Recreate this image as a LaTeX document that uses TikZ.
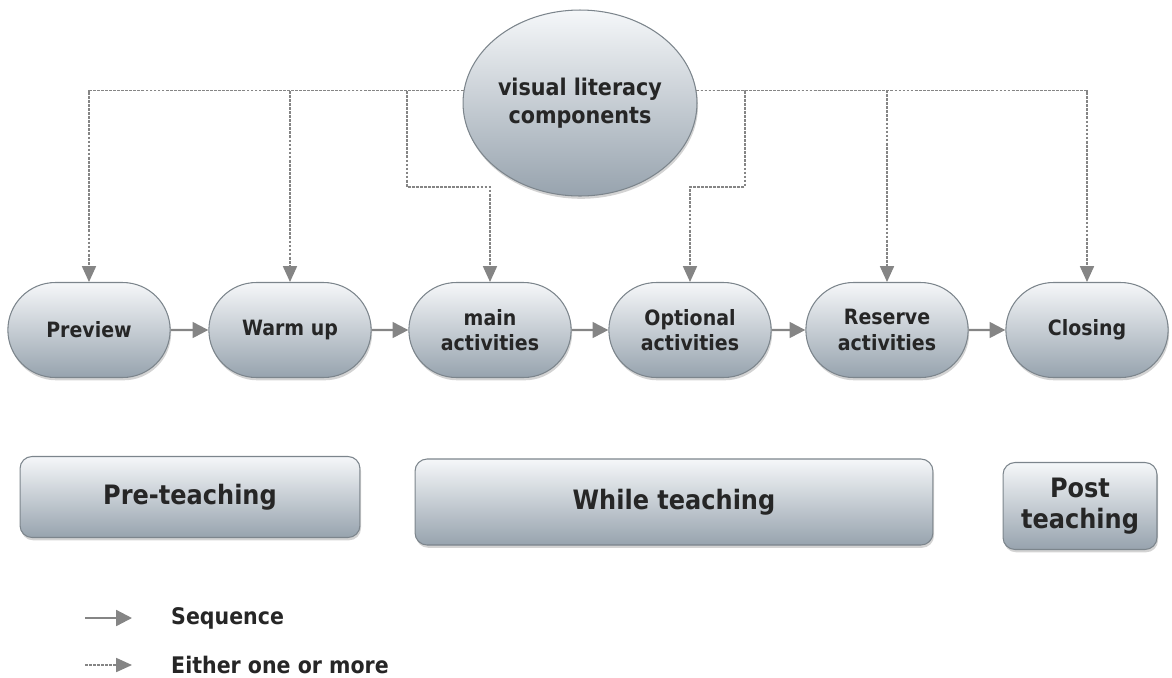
\documentclass[tikz,border=0pt]{standalone}
\usepackage{fontspec}
\setmainfont{DejaVu Sans Condensed}[BoldFont={DejaVu Sans Condensed Bold}]
\usepackage{tikz}
\usetikzlibrary{arrows.meta,shapes.misc,shapes.geometric,shadows}
\definecolor{boxtop}{HTML}{F5F7F9}
\definecolor{boxbot}{HTML}{97A3AE}
\definecolor{boxline}{HTML}{7C858C}
\definecolor{arrowgray}{HTML}{858585}
\tikzset{
  gloss/.style={draw=boxline, line width=0.6pt, top color=boxtop, bottom color=boxbot,
    text=black!85, font=\bfseries, align=center,
    drop shadow={opacity=0.35, shadow xshift=0.6pt, shadow yshift=-1.6pt}},
  stage/.style={gloss, rounded rectangle, minimum width=3.48cm, minimum height=1.9cm,
    font=\fontsize{12}{14.5}\selectfont\bfseries},
  phase/.style={gloss, rectangle, rounded corners=0.24cm,
    font=\fontsize{15.2}{18}\selectfont\bfseries},
  seq/.style={arrowgray, line width=1.3pt, -{Triangle[width=9pt,length=9pt]}},
  either/.style={arrowgray, line width=0.75pt, dash pattern=on 1.6pt off 0.7pt,
    -{Triangle[width=8pt,length=9pt]}}
}
\begin{document}
\begin{tikzpicture}[x=0.02cm,y=-0.02cm]
\useasboundingbox (0,0) rectangle (1172,677);

%components
\node[gloss,ellipse,inner sep=0pt,minimum width=4.68cm,minimum height=3.72cm,
  font=\fontsize{13.1}{16}\selectfont\bfseries](vlc)at(580,103){visual literacy\\components};
%lesson stages
\node[stage](prev)at(89,330){Preview};
\node[stage](warm)at(290,330){Warm up};
\node[stage](main)at(490,330){main\\activities};
\node[stage](opt)at(690,330){Optional\\activities};
\node[stage](res)at(887,330){Reserve\\activities};
\node[stage](clo)at(1087,330){Closing};
%sequence
\draw[seq](prev)--(warm);
\draw[seq](warm)--(main);
\draw[seq](main)--(opt);
\draw[seq](opt)--(res);
\draw[seq](res)--(clo);
%either one or more
\draw[either](vlc.174)-|(prev.north);
\draw[either](vlc.174)-|(warm.north);
\draw[either](vlc.174)-|(407,187)-|(main.north);
\draw[either](vlc.6)-|(745,187)-|(opt.north);
\draw[either](vlc.6)-|(res.north);
\draw[either](vlc.6)-|(clo.north);
%phases
\node[phase,minimum width=6.8cm,minimum height=1.62cm](pre)at(190,497){Pre-teaching};
\node[phase,minimum width=10.36cm,minimum height=1.72cm](while)at(674,502){While teaching};
\node[phase,minimum width=3.08cm,minimum height=1.74cm](post)at(1080,506){Post\\teaching};
%legend
\coordinate(seqa)at(85,618);
\coordinate(seqb)at(132,618);
\coordinate(eita)at(85,665);
\coordinate(eitb)at(132,665);
\draw[seq](seqa)--(seqb);
\draw[either](eita)--(eitb);
\node[anchor=west,font=\fontsize{13}{15}\selectfont\bfseries,text=black!85](seqt)at(165,618){Sequence};
\node[anchor=west,font=\fontsize{13}{15}\selectfont\bfseries,text=black!85](eitt)at(165,665){Either one or more};

\end{tikzpicture}
\end{document}
